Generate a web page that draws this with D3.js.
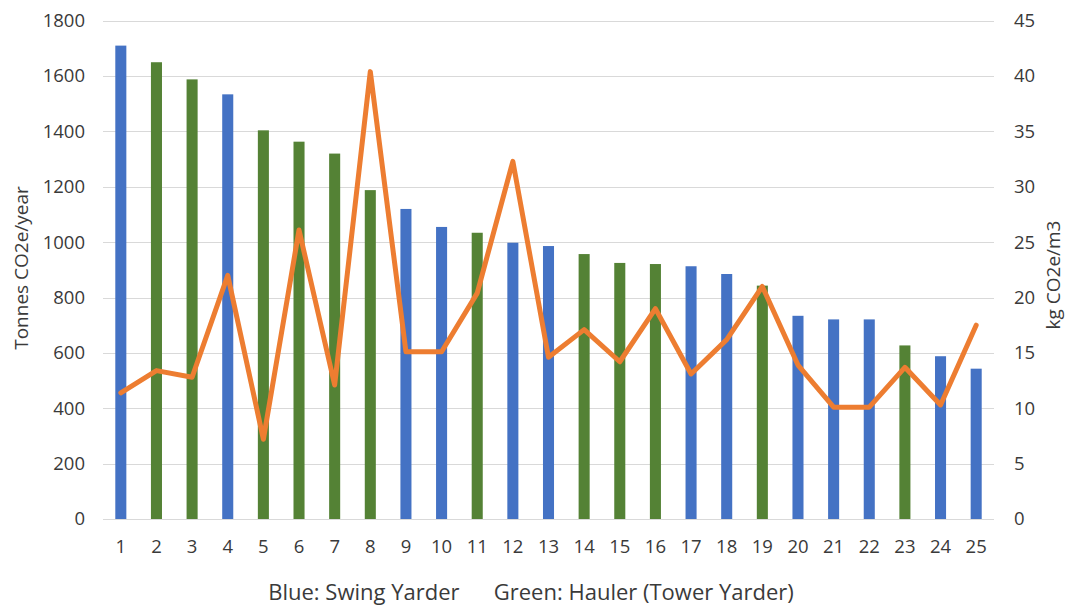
<!DOCTYPE html>
<html>
<head>
<meta charset="utf-8">
<script src="https://cdn.jsdelivr.net/npm/d3@7"></script>
<style>
  html, body { margin: 0; padding: 0; background: #fff; }
  svg text { font-family: "Open Sans", "Noto Sans", sans-serif; fill: #3a3a3a; }
</style>
</head>
<body>
<svg id="chart" width="1073" height="609"></svg>
<script>
// Site numbers along the x axis
const sites = d3.range(1, 26).map(String);

// Annual emissions per site (tonnes CO2e/year)
const annualTonnes = [1710, 1650, 1588, 1534, 1404, 1363, 1320, 1188, 1120, 1055,
                      1034, 998, 986, 957, 925, 921, 913, 885, 843, 734,
                      721, 721, 627, 588, 543];

// Machine type per site: S = swing yarder, H = hauler (tower yarder)
const machineType = ["S", "H", "H", "S", "H", "H", "H", "H", "S", "S",
                     "H", "S", "S", "H", "H", "H", "S", "S", "H", "S",
                     "S", "S", "H", "S", "S"];

// Emission intensity per site (kg CO2e/m3)
const intensity = [11.4, 13.4, 12.8, 22.0, 7.2, 26.1, 12.1, 40.4, 15.1, 15.1,
                   20.4, 32.3, 14.6, 17.1, 14.2, 19.0, 13.1, 16.2, 21.0, 13.9,
                   10.1, 10.1, 13.7, 10.3, 17.5];

const leftTicks = [0, 200, 400, 600, 800, 1000, 1200, 1400, 1600, 1800];
const rightTicks = [0, 5, 10, 15, 20, 25, 30, 35, 40, 45];

const colors = { S: "#4472C4", H: "#548235" };
const lineColor = "#ED7D31";
const textColor = "#3a3a3a";
const fontFamily = "'Open Sans', sans-serif";

const svg = d3.select("#chart");
const plot = { left: 103, right: 994, top: 20.7, bottom: 519 };

const x = d3.scaleBand().domain(sites).range([plot.left, plot.right]).paddingInner(0.69).paddingOuter(0.345);
const yL = d3.scaleLinear().domain([0, 1800]).range([plot.bottom, plot.top]);
const yR = d3.scaleLinear().domain([0, 45]).range([plot.bottom, plot.top]);

// Horizontal gridlines
svg.append("g")
  .selectAll("line")
  .data(leftTicks)
  .join("line")
  .attr("x1", plot.left).attr("x2", plot.right)
  .attr("y1", d => Math.round(yL(d)) + 0.5).attr("y2", d => Math.round(yL(d)) + 0.5)
  .attr("stroke", "#d9d9d9").attr("stroke-width", 1.2);

function styleAxis(g) {
  g.select(".domain").remove();
  g.selectAll("text")
    .attr("font-size", 18.5)
    .attr("fill", textColor)
    .style("font-family", fontFamily);
}

// Left axis labels
svg.append("g")
  .attr("transform", `translate(${plot.left - 18},0)`)
  .call(d3.axisLeft(yL).tickValues(leftTicks).tickFormat(d3.format("d")).tickSize(0).tickPadding(0))
  .call(styleAxis);

// Right axis labels
svg.append("g")
  .attr("transform", `translate(${plot.right + 20},0)`)
  .call(d3.axisRight(yR).tickValues(rightTicks).tickFormat(d3.format("d")).tickSize(0).tickPadding(0))
  .call(styleAxis);

// Bottom axis labels
svg.append("g")
  .attr("transform", `translate(0,${plot.bottom + 21})`)
  .call(d3.axisBottom(x).tickSize(0).tickPadding(0))
  .call(styleAxis);

// Bars
svg.append("g")
  .selectAll("rect")
  .data(sites)
  .join("rect")
  .attr("x", d => x(d))
  .attr("width", x.bandwidth())
  .attr("y", (d, i) => yL(annualTonnes[i]))
  .attr("height", (d, i) => yL(0) - yL(annualTonnes[i]))
  .attr("fill", (d, i) => colors[machineType[i]]);

// Intensity line on the right axis
const line = d3.line()
  .x((d, i) => x(sites[i]) + x.bandwidth() / 2)
  .y(d => yR(d));
svg.append("path")
  .datum(intensity)
  .attr("d", line)
  .attr("fill", "none")
  .attr("stroke", lineColor)
  .attr("stroke-width", 5)
  .attr("stroke-linejoin", "round")
  .attr("stroke-linecap", "round");

// Axis titles
svg.append("text")
  .attr("transform", "translate(28,268) rotate(-90)")
  .attr("text-anchor", "middle")
  .attr("font-size", 19)
  .text("Tonnes CO2e/year");

svg.append("text")
  .attr("transform", "translate(1060,275) rotate(-90)")
  .attr("text-anchor", "middle")
  .attr("font-size", 19)
  .text("kg CO2e/m3");

// Colour key
svg.append("text")
  .attr("x", 531)
  .attr("y", 600)
  .attr("text-anchor", "middle")
  .attr("font-size", 22)
  .attr("xml:space", "preserve")
  .style("white-space", "pre")
  .text("Blue: Swing Yarder      Green: Hauler (Tower Yarder)");
</script>
</body>
</html>
